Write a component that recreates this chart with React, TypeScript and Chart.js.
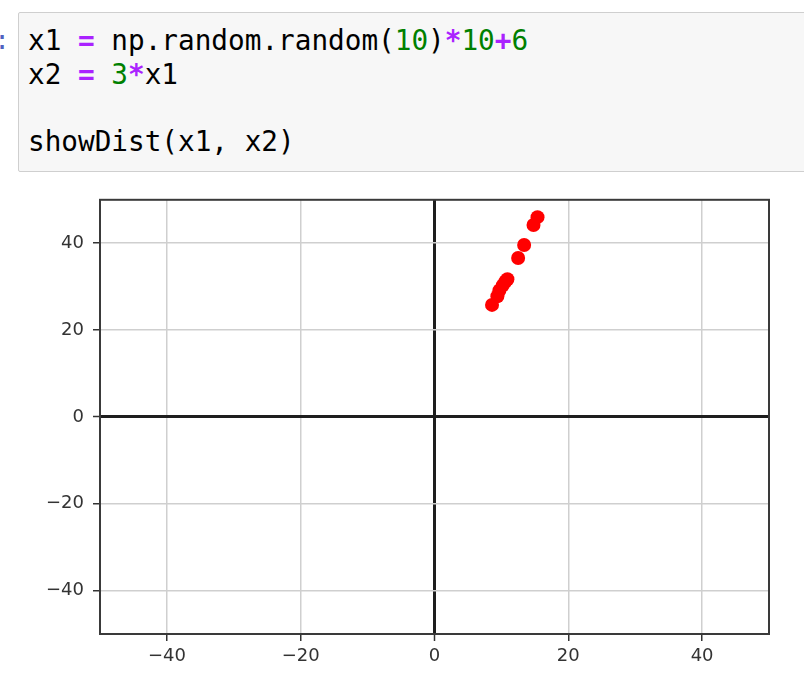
import React, { useEffect, useRef } from "react";
import { Chart, registerables } from "chart.js";

Chart.register(...registerables);

// values
const x1Values = [15.4, 14.8, 13.4, 12.5, 10.9, 10.6, 10.2, 9.7, 9.4, 8.6];
const x2Values = [46.0, 44.2, 39.6, 36.6, 31.7, 31.2, 30.3, 29.1, 27.8, 25.8];
const xTicks = [-40, -20, 0, 20, 40];
const yTicks = [-40, -20, 0, 20, 40];
const axisMin = -50;
const axisMax = 50;

const fmt = (v: number | string) => {
  const n = Number(v);
  return n < 0 ? "\u2212" + Math.abs(n) : String(n);
};

const framePlugin = {
  id: "frame",
  afterDatasetsDraw(chart: any) {
    const { ctx, chartArea } = chart;
    ctx.save();
    ctx.strokeStyle = "#3a3a3a";
    ctx.lineWidth = 2;
    ctx.strokeRect(chartArea.left, chartArea.top, chartArea.right - chartArea.left, chartArea.bottom - chartArea.top);
    ctx.restore();
  },
};

const gridColor = (c: any) => (c.tick && c.tick.value === 0 ? "#1e1e1e" : "#cfcfcf");
const gridWidth = (c: any) => (c.tick && c.tick.value === 0 ? 3 : 1.5);

function ScatterChart() {
  const ref = useRef<HTMLCanvasElement | null>(null);
  useEffect(() => {
    if (!ref.current) return;
    const chart = new Chart(ref.current, {
      type: "scatter",
      data: {
        datasets: [
          {
            data: x1Values.map((x, i) => ({ x, y: x2Values[i] })),
            backgroundColor: "#ff0000",
            borderColor: "#ff0000",
            borderWidth: 0,
            pointRadius: 7,
            pointHoverRadius: 7,
          },
        ],
      },
      options: {
        animation: false,
        responsive: false,
        devicePixelRatio: 1,
        layout: { padding: { top: 17, right: 35, left: 0, bottom: 0 } },
        plugins: { legend: { display: false }, tooltip: { enabled: false } },
        scales: {
          x: {
            type: "linear",
            min: axisMin,
            max: axisMax,
            afterBuildTicks: (s: any) => {
              s.ticks = xTicks.map((v) => ({ value: v }));
            },
            afterFit: (s: any) => {
              s.height = 62;
            },
            grid: {
              color: gridColor,
              lineWidth: gridWidth,
              tickColor: "#333333",
              tickWidth: 1.5,
              tickLength: 7,
            },
            border: { display: false },
            ticks: {
              callback: (v: any) => fmt(v),
              color: "#333333",
              padding: 5,
              maxRotation: 0,
              font: { family: "DejaVu Sans", size: 18 },
            },
          },
          y: {
            type: "linear",
            min: axisMin,
            max: axisMax,
            afterBuildTicks: (s: any) => {
              s.ticks = yTicks.map((v) => ({ value: v }));
            },
            afterFit: (s: any) => {
              s.width = 100;
            },
            grid: {
              color: gridColor,
              lineWidth: gridWidth,
              tickColor: "#333333",
              tickWidth: 1.5,
              tickLength: 7,
            },
            border: { display: false },
            ticks: {
              callback: (v: any) => fmt(v),
              color: "#333333",
              padding: 9,
              font: { family: "DejaVu Sans", size: 18 },
            },
          },
        },
      },
      plugins: [framePlugin],
    });
    return () => chart.destroy();
  }, []);
  return <canvas ref={ref} width={804} height={516} style={{ position: "absolute", left: 0, top: 180, width: 804, height: 516 }} />;
}

const mono = '"DejaVu Sans Mono", monospace';
const purple = "#aa22ff";
const green = "#008000";

export default function App() {
  return (
    <div style={{ position: "fixed", left: 0, top: 0, width: 804, height: 696, background: "#ffffff", overflow: "hidden" }}>
      <div
        style={{
          position: "absolute",
          right: 794,
          top: 24,
          fontFamily: mono,
          fontSize: 26,
          lineHeight: "33.8px",
          color: "#5062c0",
          whiteSpace: "pre",
        }}
      >
        In [ ]:
      </div>
      <div
        style={{
          position: "absolute",
          left: 18,
          top: 12,
          width: 800,
          height: 158,
          background: "#f7f7f7",
          border: "1px solid #cfcfcf",
          borderRadius: 2,
        }}
      />
      <pre
        style={{
          position: "absolute",
          left: 28,
          top: 24,
          margin: 0,
          fontFamily: mono,
          fontSize: 27.7,
          lineHeight: "33.8px",
          color: "#000000",
        }}
      >
        {"x1 "}
        <span style={{ color: purple, fontWeight: "bold" }}>=</span>
        {" np.random.random("}
        <span style={{ color: green }}>10</span>
        {")"}
        <span style={{ color: purple, fontWeight: "bold" }}>*</span>
        <span style={{ color: green }}>10</span>
        <span style={{ color: purple, fontWeight: "bold" }}>+</span>
        <span style={{ color: green }}>6</span>
        {"\nx2 "}
        <span style={{ color: purple, fontWeight: "bold" }}>=</span>
        {" "}
        <span style={{ color: green }}>3</span>
        <span style={{ color: purple, fontWeight: "bold" }}>*</span>
        {"x1\n\nshowDist(x1, x2)"}
      </pre>
      <ScatterChart />
    </div>
  );
}
